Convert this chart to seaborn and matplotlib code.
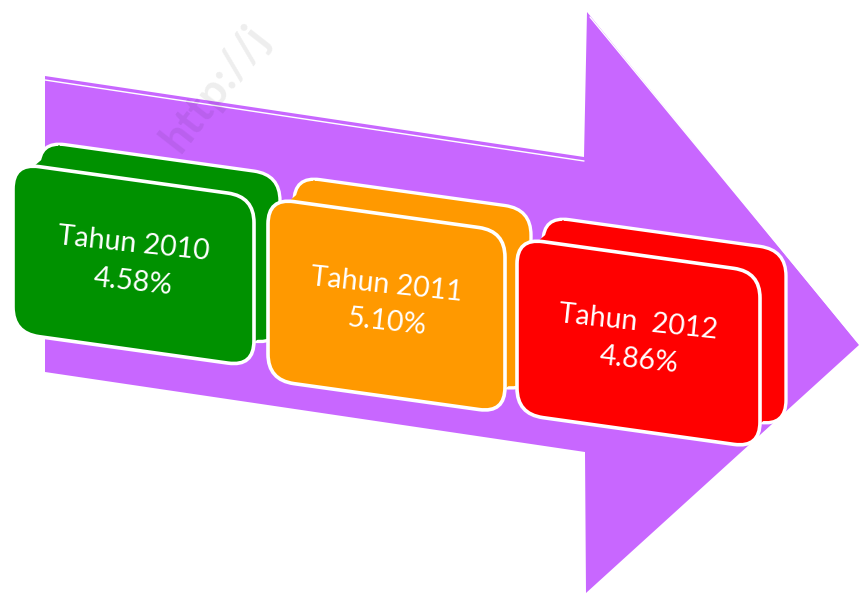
import matplotlib
matplotlib.use("Agg")
import matplotlib.pyplot as plt
import seaborn as sns
import numpy as np
from matplotlib.patches import FancyBboxPatch, Polygon
from matplotlib.transforms import Affine2D

# ---- data ----
years = ["Tahun 2010", "Tahun 2011", "Tahun  2012"]
growth = [4.58, 5.10, 4.86]
colors = ["#009100", "#FF9900", "#FF0000"]

# ---- layout (pixel space, y downward) ----
box_x = [13, 268, 517]
box_top = [163, 198, 238]
box_w = [241, 237, 243]
box_h = [170, 182, 176]
shear = 0.14
depth = (26, -22)

arrow_xy = [(45, 76), (584, 157), (587, 12), (859, 345),
            (586, 593), (585, 452), (45, 372)]
purple = "#C867FF"

sns.set_theme(style="white")
plt.rcParams["font.family"] = ["Lato", "DejaVu Sans"]

fig = plt.figure(figsize=(8.59, 5.93), dpi=100)
ax = fig.add_axes([0, 0, 1, 1])
ax.set_xlim(0, 859)
ax.set_ylim(593, 0)
ax.axis("off")

# watermark
ax.text(215, 88, "http://j", rotation=52, fontsize=32, fontweight="bold",
        color="#000000", alpha=0.07, ha="center", va="center", zorder=6)

# arrow
ax.add_patch(Polygon(arrow_xy, closed=True, facecolor=purple, edgecolor="none", zorder=1))
# thin highlight lines along upper edges
ax.plot([45, 584], [80, 161], color="white", lw=1.0, zorder=2)
ax.plot([590, 857], [17, 341], color="white", lw=1.0, zorder=2)


def sheared(x0):
    return Affine2D(np.array([[1, 0, 0], [shear, 1, -shear * x0], [0, 0, 1]])) + ax.transData


for i, (lab, val, col) in enumerate(zip(years, growth, colors)):
    x, t, w, h = box_x[i], box_top[i], box_w[i], box_h[i]
    z = 3 + i * 0.1
    back = FancyBboxPatch((x + depth[0], t + depth[1]), w, h,
                          boxstyle="round,pad=0,rounding_size=26",
                          facecolor=col, edgecolor="white", lw=2.4,
                          transform=sheared(x + depth[0]), zorder=z)
    ext = Polygon([(x + 20, t + 4), (x + depth[0] + 20, t + depth[1] + 4),
                   (x + depth[0] + w - 5, t + depth[1] + h - 20 + shear * w),
                   (x + w - 5, t + h - 20 + shear * w)],
                  closed=True, facecolor=col, edgecolor="none", zorder=z + 0.01)
    front = FancyBboxPatch((x, t), w, h,
                           boxstyle="round,pad=0,rounding_size=26",
                           facecolor=col, edgecolor="white", lw=2.6,
                           transform=sheared(x), zorder=z + 0.02)
    ax.add_patch(back)
    ax.add_patch(ext)
    ax.add_patch(front)
    cx = x + w / 2
    cy = t + h / 2 + shear * w / 2 - 2
    ax.text(cx, cy - 19, lab, color="white", fontsize=20.5, rotation=-6,
            ha="center", va="center", zorder=z + 0.05, rotation_mode="anchor")
    ax.text(cx, cy + 19, f"{val:.2f}%", color="white", fontsize=20.5, rotation=-6,
            ha="center", va="center", zorder=z + 0.05, rotation_mode="anchor")

fig.savefig("out.png", dpi=100)
